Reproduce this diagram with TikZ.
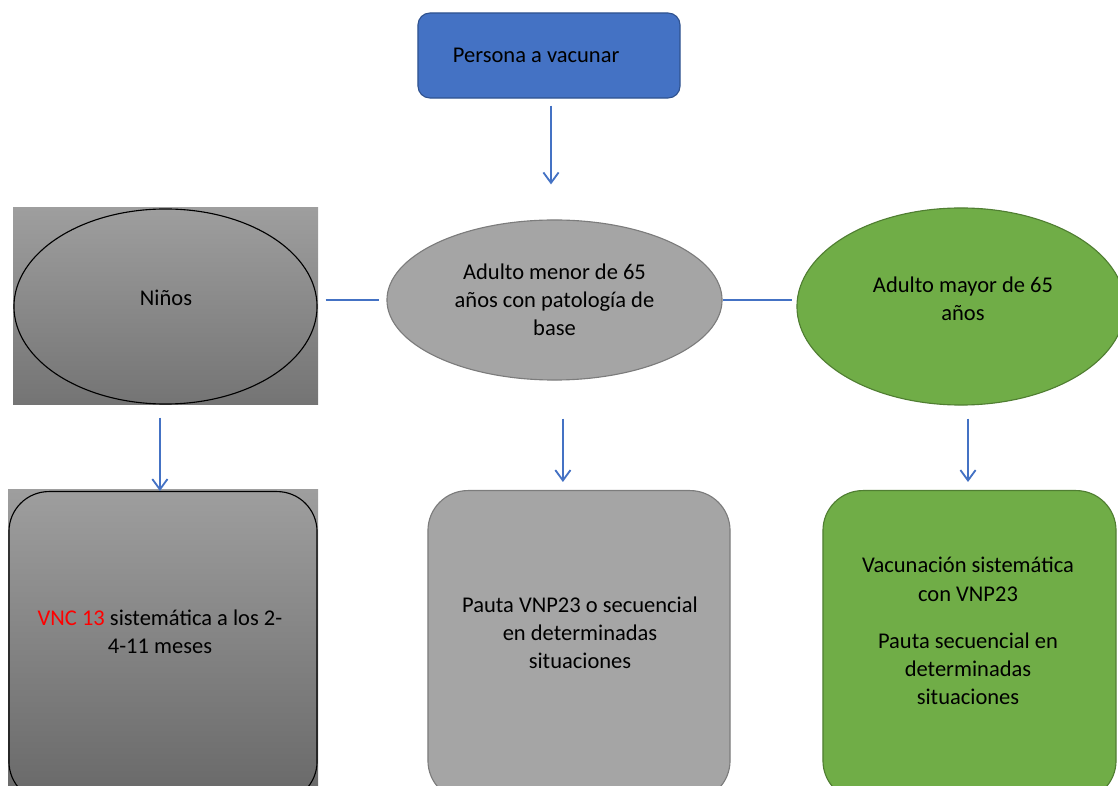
\documentclass[tikz,border=0pt]{standalone}
\usepackage{fontspec}
\setmainfont{Carlito}
\usetikzlibrary{shapes.geometric,arrows.meta}
\definecolor{azul}{HTML}{4472C4}
\definecolor{azulborde}{HTML}{2F528F}
\definecolor{gris}{HTML}{A5A5A5}
\definecolor{grisborde}{HTML}{7C7C7C}
\definecolor{verde}{HTML}{70AD47}
\definecolor{verdeborde}{HTML}{507E32}
\definecolor{sombraclara}{RGB}{158,158,158}
\definecolor{sombraoscura}{RGB}{116,116,116}

\begin{document}
\begin{tikzpicture}[x=0.025cm,y=-0.025cm,
  font=\fontsize{16}{20}\selectfont,
  flecha/.style={draw=azul,line width=1.3pt,-{Straight Barb[length=2.6mm,width=3.8mm]}},
  enlace/.style={draw=azul,line width=0.8pt},
  elipse/.style={ellipse,inner sep=0pt,line width=0.8pt},
  caja/.style={rectangle,rounded corners=1cm,anchor=north,minimum height=7.75cm,line width=0.8pt}]

\useasboundingbox (0,0) rectangle (1118,786);
\clip (0,0) rectangle (1118,786);

% fila de arriba
\node[draw=azulborde,fill=azul,rounded corners=0.3cm,line width=0.8pt,
  text width=4.8cm,align=left,inner xsep=0.875cm,minimum height=2.125cm] (persona) at (549,55.5)
  {\spaceskip=0pt\xspaceskip=0pt\relax Persona a vacunar};

% fila del medio
\shade[top color=sombraclara,bottom color=sombraoscura] (13,208) rectangle (318,405);
\node[elipse,draw=black,minimum width=7.575cm,minimum height=4.875cm] (ninos) at (165.5,306.5) {};
\node (tninos) at (166,298) {Niños};
\node[elipse,draw=grisborde,fill=gris,minimum width=8.375cm,minimum height=4cm,align=center] (menor) at (554.5,300)
  {Adulto menor de 65\\años con patología de\\base};
\node[elipse,draw=verdeborde,fill=verde,minimum width=8.2cm,minimum height=4.925cm] (mayor) at (961,306.5) {};
\node[align=center] (tmayor) at (963,298.5) {Adulto mayor de 65\\años};

% fila de abajo
\shade[top color=sombraclara,bottom color=sombraoscura!90!black] (8,490) rectangle (318,800);
\node[caja,draw=black,minimum width=7.7cm] (vnc) at (163,491) {};
\node[align=center] (tvnc) at (160,632) {\textcolor{red}{VNC 13} sistemática a los 2-\\4-11 meses};
\node[caja,draw=grisborde,fill=gris,minimum width=7.55cm] (pauta) at (579,490) {};
\node[align=center] (tpauta) at (580,632.5) {Pauta VNP23 o secuencial\\en determinadas\\situaciones};
\node[caja,draw=verdeborde,fill=verde,minimum width=7.325cm] (sist) at (969.5,490) {};
\node[align=center] (tsist) at (968,631) {Vacunación sistemática\\con VNP23\\[0.475cm]Pauta secuencial en\\determinadas\\situaciones};

% conectores
\draw[flecha,shorten <=0.175cm,shorten >=0.875cm] ([xshift=0.05cm]persona.south) -- ([xshift=0.05cm]persona.south |- menor.north);
\draw[enlace,shorten <=0.2cm,shorten >=0.175cm] (ninos.east |- menor.west) -- (menor.west);
\draw[enlace,shorten >=0.1cm] (menor.east) -- (mayor.west |- menor.east);
\draw[flecha,shorten <=0.325cm] ([xshift=-0.14cm]ninos.south) -- ([xshift=-0.14cm]ninos.south |- vnc.north);
\draw[flecha,shorten <=0.95cm,shorten >=0.2cm] ([xshift=0.21cm]menor.south) -- ([xshift=0.21cm]menor.south |- pauta.north);
\draw[flecha,shorten <=0.325cm,shorten >=0.2cm] ([xshift=0.175cm]mayor.south) -- ([xshift=0.175cm]mayor.south |- sist.north);
\end{tikzpicture}
\end{document}
